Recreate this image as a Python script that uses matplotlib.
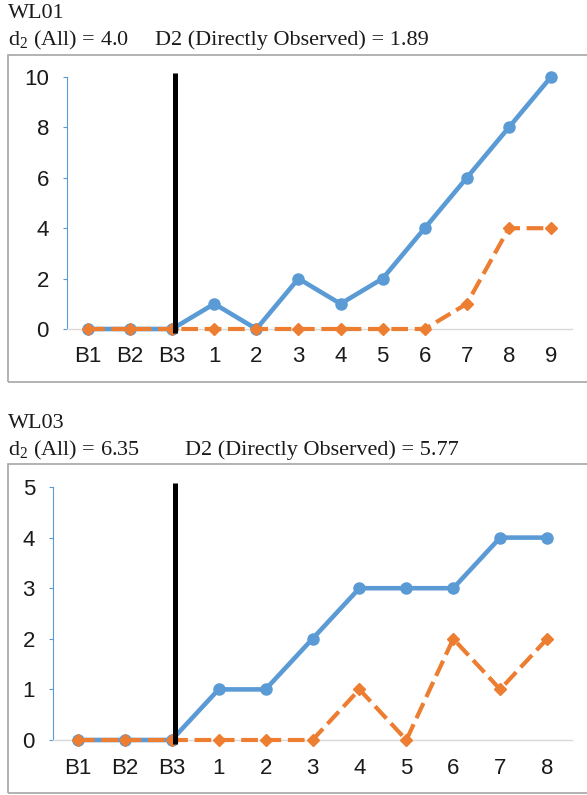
import matplotlib
matplotlib.use("Agg")
import matplotlib.pyplot as plt
from matplotlib.patches import Rectangle

plt.rcParams["mathtext.fontset"] = "custom"
plt.rcParams["mathtext.rm"] = "Liberation Serif"
plt.rcParams["mathtext.it"] = "Liberation Serif:italic"

BLUE = "#5B9BD5"
ORANGE = "#ED7D31"

# WL01 session data
wl01_labels = ["B1", "B2", "B3", "1", "2", "3", "4", "5", "6", "7", "8", "9"]
wl01_all = [0, 0, 0, 1, 0, 2, 1, 2, 4, 6, 8, 10]
wl01_direct = [0, 0, 0, 0, 0, 0, 0, 0, 0, 1, 4, 4]
wl01_yticks = [0, 2, 4, 6, 8, 10]

# WL03 session data
wl03_labels = ["B1", "B2", "B3", "1", "2", "3", "4", "5", "6", "7", "8"]
wl03_all = [0, 0, 0, 1, 1, 2, 3, 3, 3, 4, 4]
wl03_direct = [0, 0, 0, 0, 0, 0, 1, 0, 2, 1, 2]
wl03_yticks = [0, 1, 2, 3, 4, 5]

# phase change sits just after the last baseline point
phase_x = 2.06

W, H = 587, 795
fig = plt.figure(figsize=(W / 100, H / 100), dpi=100)


def px_axes(x0, x1, ytop, ybot):
    return fig.add_axes([x0 / W, 1 - ybot / H, (x1 - x0) / W, (ybot - ytop) / H])


def panel(ax, labels, s_all, s_direct, yticks, xpad, lpad):
    n = len(labels)
    x = list(range(n))
    ax.plot(x, s_all, color=BLUE, lw=3.3, marker="o", ms=8,
            clip_on=False, zorder=3)
    ax.plot(x, s_direct, color=ORANGE, lw=3.0, ls=(0, (4.0, 1.6)),
            marker="D", ms=5.8, clip_on=False, zorder=4)
    top = yticks[-1]
    ext = top * 0.016
    ax.plot([phase_x, phase_x], [-ext, top + ext], color="black", lw=3.6,
            solid_capstyle="butt", clip_on=False, zorder=5)
    ax.set_xlim(-xpad, n - 1 + xpad)
    ax.set_ylim(0, top)
    ax.set_xticks(x)
    ax.set_xticklabels(labels)
    ax.set_yticks(yticks)
    for s in ("top", "right"):
        ax.spines[s].set_visible(False)
    ax.spines["left"].set_color(BLUE)
    ax.spines["left"].set_linewidth(0.8)
    ax.spines["bottom"].set_color("#D9D9D9")
    ax.spines["bottom"].set_linewidth(1.0)
    ax.tick_params(axis="y", direction="out", length=3, color=BLUE,
                   width=0.8, pad=10, labelsize=16)
    ax.tick_params(axis="x", length=0, pad=lpad, labelsize=16)
    for t in ax.get_xticklabels() + ax.get_yticklabels():
        t.set_fontfamily("Liberation Sans")
        t.set_color("#1a1a1a")
    ax.patch.set_visible(False)


def header(ytitle, ystats, name, d_all, d_direct, xd):
    serif = dict(family="Liberation Serif", fontsize=16, va="center",
                 color="#1a1a1a")
    fig.text(8 / W, 1 - ytitle / H, name, **serif)
    fig.text(8 / W, 1 - ystats / H, r"d$_2$ (All) = " + d_all, **serif)
    fig.text(xd / W, 1 - ystats / H,
             "D2 (Directly Observed) = " + d_direct, **serif)


def frame(ytop, ybot):
    fig.patches.append(Rectangle((8 / W, 1 - ybot / H), 600 / W,
                                 (ybot - ytop) / H, transform=fig.transFigure,
                                 fill=False, ec="#A6A6A6", lw=1.2))


header(14, 40, "WL01", "4.0", "1.89", 155)
frame(55, 382)
ax1 = px_axes(67, 572, 77, 329)
panel(ax1, wl01_labels, wl01_all, wl01_direct, wl01_yticks, 0.5, 12)

header(423, 450, "WL03", "6.35", "5.77", 185)
frame(464, 793)
ax2 = px_axes(53, 572, 487, 740)
panel(ax2, wl03_labels, wl03_all, wl03_direct, wl03_yticks, 0.53, 13)

fig.savefig("out.png", dpi=100)
